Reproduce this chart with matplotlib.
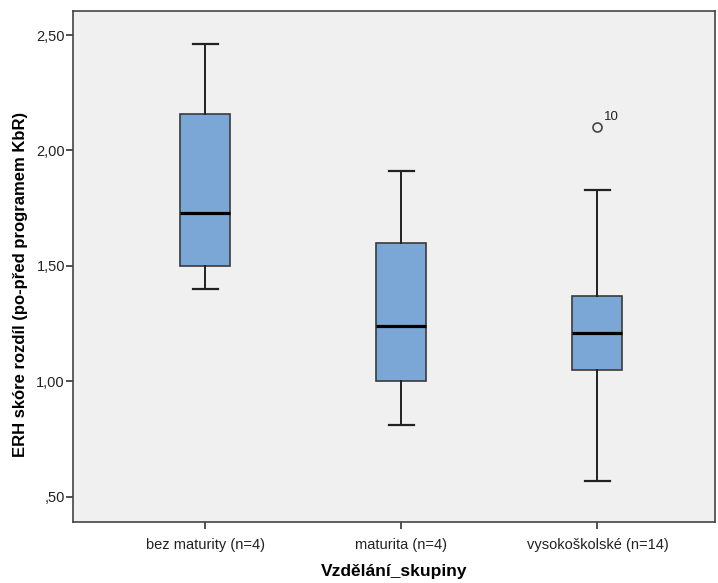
import matplotlib.pyplot as plt
from matplotlib.ticker import FuncFormatter

plt.rcParams['font.family'] = ['Liberation Sans', 'DejaVu Sans']

# box statistics
groups = ['bez maturity (n=4)', 'maturita (n=4)', 'vysokoškolské (n=14)']
whislo = [1.40, 0.81, 0.57]
q1 = [1.50, 1.00, 1.05]
med = [1.73, 1.24, 1.21]
q3 = [2.16, 1.60, 1.37]
whishi = [2.46, 1.91, 1.83]
fliers = [[], [], [2.10]]
flier_ids = [[], [], ['10']]

stats = []
for i, g in enumerate(groups):
    stats.append(dict(label=g, whislo=whislo[i], q1=q1[i], med=med[i],
                      q3=q3[i], whishi=whishi[i], fliers=fliers[i]))

fig = plt.figure(figsize=(7.18, 5.83), dpi=100)
ax = fig.add_axes([0.102, 0.104, 0.894, 0.877])
ax.set_facecolor('#f0f0f0')

pos = list(range(len(groups)))
ax.bxp(stats, positions=pos, widths=0.255, patch_artist=True,
       boxprops=dict(facecolor='#7aa7d6', edgecolor='#3a3a3a', linewidth=1.2),
       medianprops=dict(color='black', linewidth=2.3),
       whiskerprops=dict(color='#222222', linewidth=1.4),
       capprops=dict(color='#222222', linewidth=1.6),
       capwidths=0.128,
       flierprops=dict(marker='o', markerfacecolor='none', markeredgecolor='#444444',
                       markersize=6.5, markeredgewidth=1.2))

for i in pos:
    for v, lab in zip(fliers[i], flier_ids[i]):
        ax.annotate(lab, (i, v), xytext=(5, 3), textcoords='offset points',
                    fontsize=9.5, color='#222222', va='bottom', ha='left')

ax.set_xlim(-0.672, 2.60)
ax.set_ylim(0.389, 2.604)
ax.set_yticks([0.5, 1.0, 1.5, 2.0, 2.5])


def fmt(v, p):
    s = ('%.2f' % v).replace('.', ',')
    return s[1:] if s.startswith('0') else s


ax.yaxis.set_major_formatter(FuncFormatter(fmt))

ax.tick_params(axis='both', direction='out', length=5, width=1.2, color='#333333',
               labelsize=10.5, labelcolor='#222222')
ax.tick_params(axis='x', pad=6)
ax.tick_params(axis='y', pad=1, labelsize=10.5)
for s in ax.spines.values():
    s.set_color('#444444')
    s.set_linewidth(1.2)

ax.set_xlabel('Vzdělání_skupiny', fontsize=12.5, fontweight='bold', labelpad=9)
ax.set_ylabel('ERH skóre rozdíl (po-před programem KbR)', fontsize=12, fontweight='bold')
ax.yaxis.set_label_coords(-0.071, 0.465)

fig.savefig('out.png', dpi=100)
